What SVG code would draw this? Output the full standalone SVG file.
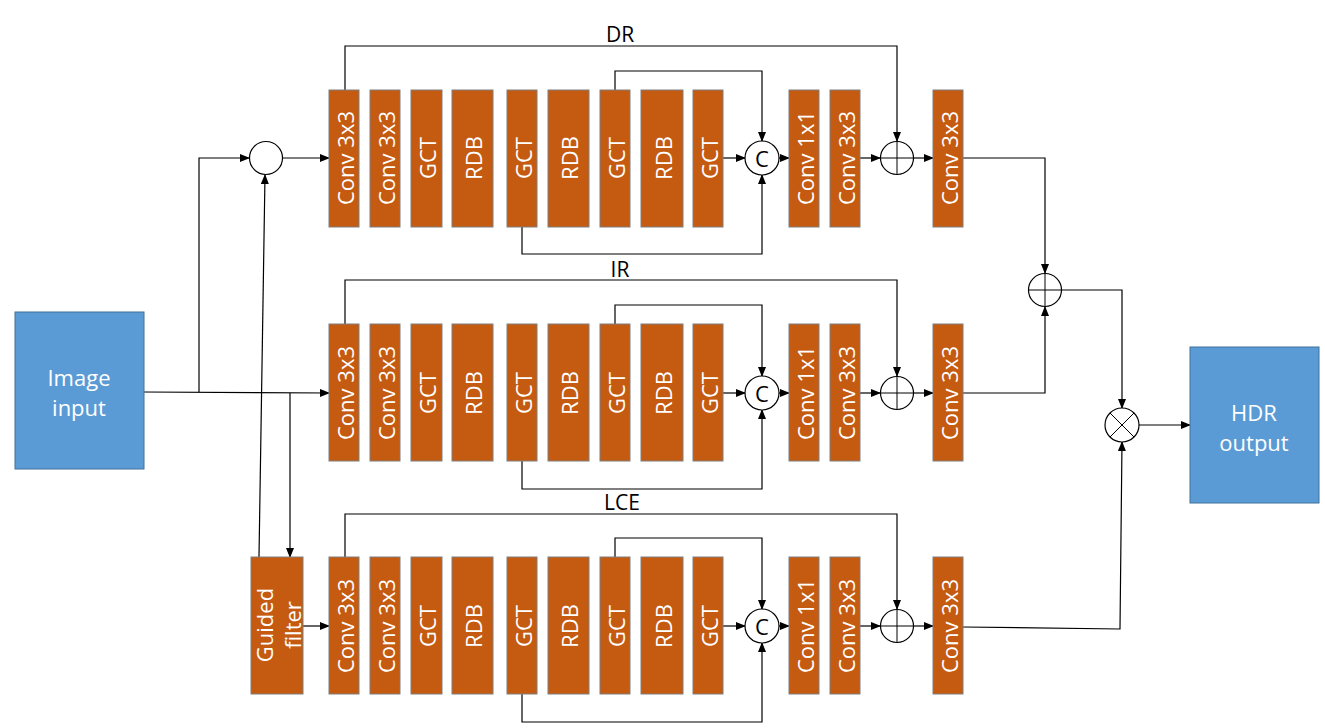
<svg xmlns="http://www.w3.org/2000/svg" width="1325" height="728" viewBox="0 0 1325 728">
<defs>
<marker id="ah" markerWidth="10" markerHeight="8" refX="9" refY="4" orient="auto" markerUnits="userSpaceOnUse">
<path d="M0,0 L10,4 L0,8 Z" fill="#000"/>
</marker>
<style>
.blk{fill:#C55A11;stroke:#7F7F7F;stroke-width:1}
.bt{font-family:"Open Sans","Liberation Sans",sans-serif;font-size:22px;fill:#fff;text-anchor:middle;dominant-baseline:central}
.io{fill:#5B9BD5;stroke:#41719C;stroke-width:1}
.iot{font-family:"Open Sans","Liberation Sans",sans-serif;font-size:22px;fill:#fff;text-anchor:middle;dominant-baseline:central}
.lbl{font-family:"Open Sans","Liberation Sans",sans-serif;font-size:21px;fill:#000;text-anchor:middle;dominant-baseline:central}
.cir{fill:#fff;stroke:#000;stroke-width:1.2}
.sym{stroke:#000;stroke-width:1;fill:none}
.ct{font-family:"Open Sans","Liberation Sans",sans-serif;font-size:22px;fill:#000;text-anchor:middle;dominant-baseline:central}
.c{fill:none;stroke:#000;stroke-width:1.2}
.ca{fill:none;stroke:#000;stroke-width:1.2;marker-end:url(#ah)}
</style>
</defs>
<rect width="1325" height="728" fill="#fff"/>

<!-- connectors -->
<g id="connectors">
<!-- input side -->
<path class="ca" d="M144,392 L329,393"/>
<path class="ca" d="M199,392 V158 H249"/>
<path class="ca" d="M283,158 H329"/>
<path class="ca" d="M259,557 L265,175"/>
<path class="ca" d="M290,393 V557"/>
<path class="ca" d="M303,626 H329"/>
<!-- row 1 -->
<path class="ca" d="M345,90 V46 H897 V141"/>
<path class="ca" d="M615,90 V71 H762 V141"/>
<path class="ca" d="M522,227 V254 H762 V175"/>
<path class="ca" d="M723,158 H745"/>
<path class="ca" d="M779,158 H789"/>
<path class="ca" d="M860,158 H880"/>
<path class="ca" d="M914,158 H933"/>
<!-- row 2 -->
<path class="ca" d="M345,324 V280 H897 V376"/>
<path class="ca" d="M615,324 V305 H762 V376"/>
<path class="ca" d="M522,461 V489 H762 V410"/>
<path class="ca" d="M723,393 H745"/>
<path class="ca" d="M779,393 H789"/>
<path class="ca" d="M860,393 H880"/>
<path class="ca" d="M914,393 H933"/>
<!-- row 3 -->
<path class="ca" d="M345,557 V514 H897 V609"/>
<path class="ca" d="M615,557 V538 H762 V609"/>
<path class="ca" d="M522,694 V722 H762 V643"/>
<path class="ca" d="M723,626 H745"/>
<path class="ca" d="M779,626 H789"/>
<path class="ca" d="M860,626 H880"/>
<path class="ca" d="M914,626 H933"/>
<!-- output side -->
<path class="ca" d="M963,158 H1045 V273"/>
<path class="ca" d="M963,393 H1045 V307"/>
<path class="ca" d="M1062,290 H1122 V408"/>
<path class="ca" d="M963,627 L1120,629 L1122,442"/>
<path class="ca" d="M1139,425 H1190"/>
</g>

<!-- labels -->
<text class="lbl" x="620" y="34">DR</text>
<text class="lbl" x="620" y="269">IR</text>
<text class="lbl" x="622" y="502">LCE</text>

<!-- input / output -->
<g id="image-input">
<rect class="io" x="15" y="312" width="129" height="157"/>
<text class="iot" x="79" y="377">Image</text>
<text class="iot" x="79" y="407">input</text>
</g>
<g id="hdr-output">
<rect class="io" x="1190" y="347" width="129" height="156"/>
<text class="iot" x="1254" y="412">HDR</text>
<text class="iot" x="1254" y="442">output</text>
</g>

<!-- guided filter -->
<g id="guided-filter">
<rect class="blk" x="251" y="557" width="52" height="137"/>
<text class="iot" transform="rotate(-90 264 625)" x="264" y="625">Guided</text>
<text class="iot" transform="rotate(-90 292 625)" x="292" y="625">filter</text>
</g>

<!-- subtract circle -->
<g id="join-circle">
<circle class="cir" cx="266" cy="158" r="16.5"/>
</g>

<!-- row 1 blocks -->
<g id="row-dr">
<g id="dr-conv1"><rect class="blk" x="329" y="90" width="30" height="137"/><text class="bt" transform="rotate(-90 344.5 158)" x="344.5" y="158">Conv 3x3</text></g>
<g id="dr-conv2"><rect class="blk" x="370" y="90" width="30" height="137"/><text class="bt" transform="rotate(-90 385.5 158)" x="385.5" y="158">Conv 3x3</text></g>
<g id="dr-gct1"><rect class="blk" x="411" y="90" width="31" height="137"/><text class="bt" transform="rotate(-90 427 158)" x="427" y="158">GCT</text></g>
<g id="dr-rdb1"><rect class="blk" x="452" y="90" width="41" height="137"/><text class="bt" transform="rotate(-90 473 158)" x="473" y="158">RDB</text></g>
<g id="dr-gct2"><rect class="blk" x="507" y="90" width="30" height="137"/><text class="bt" transform="rotate(-90 522.5 158)" x="522.5" y="158">GCT</text></g>
<g id="dr-rdb2"><rect class="blk" x="548" y="90" width="41" height="137"/><text class="bt" transform="rotate(-90 569 158)" x="569" y="158">RDB</text></g>
<g id="dr-gct3"><rect class="blk" x="600" y="90" width="30" height="137"/><text class="bt" transform="rotate(-90 615.5 158)" x="615.5" y="158">GCT</text></g>
<g id="dr-rdb3"><rect class="blk" x="641" y="90" width="42" height="137"/><text class="bt" transform="rotate(-90 662.5 158)" x="662.5" y="158">RDB</text></g>
<g id="dr-gct4"><rect class="blk" x="693" y="90" width="30" height="137"/><text class="bt" transform="rotate(-90 708.5 158)" x="708.5" y="158">GCT</text></g>
<g id="dr-cat"><circle class="cir" cx="762" cy="158" r="17"/><text class="ct" x="762" y="158">C</text></g>
<g id="dr-conv3"><rect class="blk" x="789" y="90" width="30" height="137"/><text class="bt" transform="rotate(-90 804.5 158)" x="804.5" y="158">Conv 1x1</text></g>
<g id="dr-conv4"><rect class="blk" x="830" y="90" width="30" height="137"/><text class="bt" transform="rotate(-90 845.5 158)" x="845.5" y="158">Conv 3x3</text></g>
<g id="dr-add"><circle class="cir" cx="897" cy="158" r="16.5"/><path class="sym" d="M880.5,158 H913.5 M897,141.5 V174.5"/></g>
<g id="dr-conv5"><rect class="blk" x="933" y="90" width="30" height="137"/><text class="bt" transform="rotate(-90 948.5 158)" x="948.5" y="158">Conv 3x3</text></g>
</g>

<!-- row 2 blocks -->
<g id="row-ir">
<g id="ir-conv1"><rect class="blk" x="329" y="324" width="30" height="137"/><text class="bt" transform="rotate(-90 344.5 393)" x="344.5" y="393">Conv 3x3</text></g>
<g id="ir-conv2"><rect class="blk" x="370" y="324" width="30" height="137"/><text class="bt" transform="rotate(-90 385.5 393)" x="385.5" y="393">Conv 3x3</text></g>
<g id="ir-gct1"><rect class="blk" x="411" y="324" width="31" height="137"/><text class="bt" transform="rotate(-90 427 393)" x="427" y="393">GCT</text></g>
<g id="ir-rdb1"><rect class="blk" x="452" y="324" width="41" height="137"/><text class="bt" transform="rotate(-90 473 393)" x="473" y="393">RDB</text></g>
<g id="ir-gct2"><rect class="blk" x="507" y="324" width="30" height="137"/><text class="bt" transform="rotate(-90 522.5 393)" x="522.5" y="393">GCT</text></g>
<g id="ir-rdb2"><rect class="blk" x="548" y="324" width="41" height="137"/><text class="bt" transform="rotate(-90 569 393)" x="569" y="393">RDB</text></g>
<g id="ir-gct3"><rect class="blk" x="600" y="324" width="30" height="137"/><text class="bt" transform="rotate(-90 615.5 393)" x="615.5" y="393">GCT</text></g>
<g id="ir-rdb3"><rect class="blk" x="641" y="324" width="42" height="137"/><text class="bt" transform="rotate(-90 662.5 393)" x="662.5" y="393">RDB</text></g>
<g id="ir-gct4"><rect class="blk" x="693" y="324" width="30" height="137"/><text class="bt" transform="rotate(-90 708.5 393)" x="708.5" y="393">GCT</text></g>
<g id="ir-cat"><circle class="cir" cx="762" cy="393" r="17"/><text class="ct" x="762" y="393">C</text></g>
<g id="ir-conv3"><rect class="blk" x="789" y="324" width="30" height="137"/><text class="bt" transform="rotate(-90 804.5 393)" x="804.5" y="393">Conv 1x1</text></g>
<g id="ir-conv4"><rect class="blk" x="830" y="324" width="30" height="137"/><text class="bt" transform="rotate(-90 845.5 393)" x="845.5" y="393">Conv 3x3</text></g>
<g id="ir-add"><circle class="cir" cx="897" cy="393" r="16.5"/><path class="sym" d="M880.5,393 H913.5 M897,376.5 V409.5"/></g>
<g id="ir-conv5"><rect class="blk" x="933" y="324" width="30" height="137"/><text class="bt" transform="rotate(-90 948.5 393)" x="948.5" y="393">Conv 3x3</text></g>
</g>

<!-- row 3 blocks -->
<g id="row-lce">
<g id="lce-conv1"><rect class="blk" x="329" y="557" width="30" height="137"/><text class="bt" transform="rotate(-90 344.5 626)" x="344.5" y="626">Conv 3x3</text></g>
<g id="lce-conv2"><rect class="blk" x="370" y="557" width="30" height="137"/><text class="bt" transform="rotate(-90 385.5 626)" x="385.5" y="626">Conv 3x3</text></g>
<g id="lce-gct1"><rect class="blk" x="411" y="557" width="31" height="137"/><text class="bt" transform="rotate(-90 427 626)" x="427" y="626">GCT</text></g>
<g id="lce-rdb1"><rect class="blk" x="452" y="557" width="41" height="137"/><text class="bt" transform="rotate(-90 473 626)" x="473" y="626">RDB</text></g>
<g id="lce-gct2"><rect class="blk" x="507" y="557" width="30" height="137"/><text class="bt" transform="rotate(-90 522.5 626)" x="522.5" y="626">GCT</text></g>
<g id="lce-rdb2"><rect class="blk" x="548" y="557" width="41" height="137"/><text class="bt" transform="rotate(-90 569 626)" x="569" y="626">RDB</text></g>
<g id="lce-gct3"><rect class="blk" x="600" y="557" width="30" height="137"/><text class="bt" transform="rotate(-90 615.5 626)" x="615.5" y="626">GCT</text></g>
<g id="lce-rdb3"><rect class="blk" x="641" y="557" width="42" height="137"/><text class="bt" transform="rotate(-90 662.5 626)" x="662.5" y="626">RDB</text></g>
<g id="lce-gct4"><rect class="blk" x="693" y="557" width="30" height="137"/><text class="bt" transform="rotate(-90 708.5 626)" x="708.5" y="626">GCT</text></g>
<g id="lce-cat"><circle class="cir" cx="762" cy="626" r="17"/><text class="ct" x="762" y="626">C</text></g>
<g id="lce-conv3"><rect class="blk" x="789" y="557" width="30" height="137"/><text class="bt" transform="rotate(-90 804.5 626)" x="804.5" y="626">Conv 1x1</text></g>
<g id="lce-conv4"><rect class="blk" x="830" y="557" width="30" height="137"/><text class="bt" transform="rotate(-90 845.5 626)" x="845.5" y="626">Conv 3x3</text></g>
<g id="lce-add"><circle class="cir" cx="897" cy="626" r="16.5"/><path class="sym" d="M880.5,626 H913.5 M897,609.5 V642.5"/></g>
<g id="lce-conv5"><rect class="blk" x="933" y="557" width="30" height="137"/><text class="bt" transform="rotate(-90 948.5 626)" x="948.5" y="626">Conv 3x3</text></g>
</g>

<!-- fusion -->
<g id="fuse-add"><circle class="cir" cx="1045" cy="290" r="16.5"/><path class="sym" d="M1028.5,290 H1061.5 M1045,273.5 V306.5"/></g>
<g id="fuse-mul"><circle class="cir" cx="1122" cy="425" r="17"/><path class="sym" d="M1110,413 L1134,437 M1134,413 L1110,437"/></g>
</svg>
